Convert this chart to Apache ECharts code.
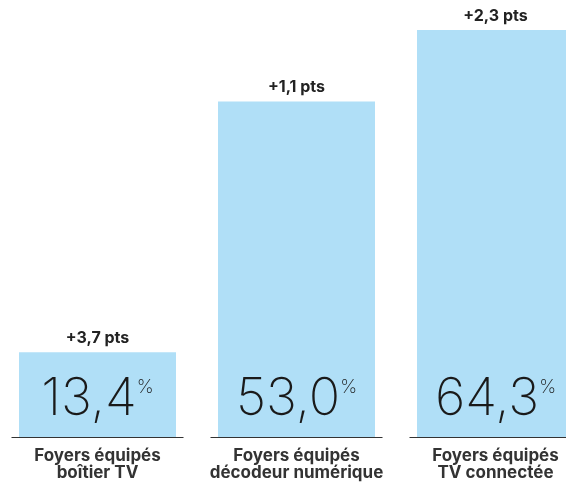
<!DOCTYPE html>
<html>
<head>
<meta charset="utf-8">
<script src="https://cdn.jsdelivr.net/npm/echarts@6/dist/echarts.min.js"></script>
<style>
  html, body { margin: 0; padding: 0; background: #fff; }
  #chart { width: 566px; height: 483px; }
</style>
</head>
<body>
<div id="chart"></div>
<script>
const categories = ['Foyers équipés\nboîtier TV', 'Foyers équipés\ndécodeur numérique', 'Foyers équipés\nTV connectée']
const values = [13.4, 53.0, 64.3]
const valueLabels = ['13,4', '53,0', '64,3']
const deltas = ['+3,7 pts', '+1,1 pts', '+2,3 pts']

const chart = echarts.init(document.getElementById('chart'))
const option = {
  animation: false,
  backgroundColor: '#fff',
  grid: { left: -2, width: 597, top: 30, bottom: 46, containLabel: false, outerBoundsMode: 'none' },
  xAxis: {
    type: 'category',
    data: categories,
    axisLine: { show: false },
    axisTick: { show: false },
    axisLabel: {
      interval: 0,
      margin: 10,
      color: '#333',
      fontFamily: 'Inter, "Noto Sans", sans-serif',
      fontWeight: 'bold',
      fontSize: 17,
      lineHeight: 17,
    },
  },
  yAxis: {
    type: 'value',
    min: 0,
    max: 64.3,
    show: false,
    splitLine: { show: false },
  },
  series: [
    {
      type: 'bar',
      barWidth: 157,
      data: values,
      itemStyle: { color: '#b0dff7' },
      label: {
        show: true,
        position: 'insideBottom',
        distance: 12,
        formatter: p => `{n|${valueLabels[p.dataIndex]}}{p|%}`,
        rich: {
          n: { fontFamily: 'Inter, sans-serif', fontWeight: 200, fontSize: 52, color: '#1a1a1a', lineHeight: 52 },
          p: { fontFamily: 'Inter, sans-serif', fontWeight: 200, fontSize: 19, color: '#1a1a1a', verticalAlign: 'top', lineHeight: 19, padding: [5, 0, 0, 0] },
        },
      },
      z: 2,
    },
    {
      type: 'bar',
      barWidth: 157,
      barGap: '-100%',
      data: values,
      itemStyle: { color: 'transparent' },
      label: {
        show: true,
        position: 'top',
        distance: 6,
        formatter: p => deltas[p.dataIndex],
        color: '#222',
        fontFamily: 'Inter, "Noto Sans", sans-serif',
        fontWeight: 'bold',
        fontSize: 16,
      },
      z: 3,
    },
    {
      type: 'custom',
      data: values.map((v, i) => [i, 0]),
      renderItem: (params, api) => {
        const c = api.coord([api.value(0), 0])
        const half = 86
        return {
          type: 'line',
          shape: { x1: c[0] - half, y1: c[1] + 0.5, x2: c[0] + half, y2: c[1] + 0.5 },
          style: { stroke: '#333', lineWidth: 1.2 },
        }
      },
      z: 4,
    },
  ],
}
chart.setOption(option)
</script>
</body>
</html>
